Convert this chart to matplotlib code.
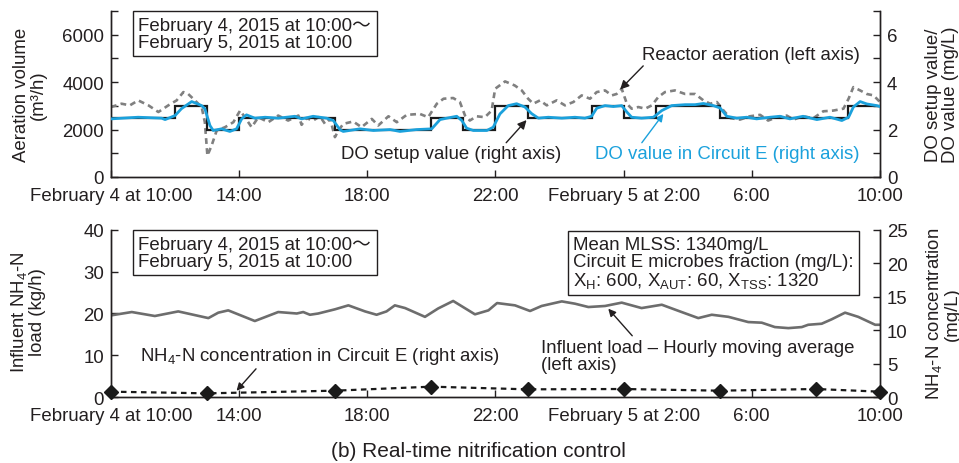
import numpy as np
import matplotlib
matplotlib.use("Agg")
import matplotlib.pyplot as plt

plt.rcParams['font.family'] = ['Liberation Sans', 'Noto Sans CJK JP', 'DejaVu Sans']
plt.rcParams['mathtext.fontset'] = 'custom'
plt.rcParams['mathtext.rm'] = 'Liberation Sans'
plt.rcParams['mathtext.it'] = 'Liberation Sans'
plt.rcParams['font.size'] = 13.4

TXT = '#231f20'
BLUE = '#1ba1dc'
GRAY = '#808080'

# hours elapsed since February 4, 2015 10:00
x_ticks = [0, 4, 8, 12, 16, 20, 24]
x_ticklabels = ['February 4 at 10:00', '14:00', '18:00', '22:00',
                'February 5 at 2:00', '6:00', '10:00']

# DO setup value (mg/L), step changes
do_set_edges = [0, 2, 3, 4, 7, 10, 11, 12, 13, 15, 16, 17, 19, 23, 24]
do_set_vals = [2.5, 3.0, 2.0, 2.5, 2.0, 2.5, 2.0, 3.0, 2.5, 3.0, 2.5, 3.0, 2.5, 3.0]

# DO value in Circuit E (mg/L)
do_t = [0, 0.85, 1.58, 1.69, 2.0, 2.2, 2.52, 2.83, 2.93, 3.09,
        3.19, 3.45, 3.71, 3.92, 4.08, 4.23, 4.49, 4.81, 5.22, 5.74,
        5.95, 6.31, 6.73, 6.94, 7.15, 7.25, 7.77, 8.19, 8.71, 9.02,
        9.54, 10.01, 10.27, 10.48, 10.79, 10.95, 11.1, 11.31, 11.73, 11.93,
        12.14, 12.4, 12.66, 12.92, 13.13, 13.34, 13.65, 14.07, 14.48, 14.79,
        15.0, 15.16, 15.42, 15.68, 15.94, 16.1, 16.25, 16.56, 16.93, 17.19,
        17.5, 17.92, 18.23, 18.49, 18.8, 19.01, 19.22, 19.53, 19.84, 20.15,
        20.57, 20.88, 21.19, 21.6, 22.03, 22.44, 22.81, 23.02, 23.17, 23.38,
        23.59, 23.9, 24.0]
do_val = [2.45, 2.52, 2.48, 2.42, 2.59, 2.88, 3.18, 3.01, 2.88, 2.17,
          1.96, 2.03, 1.92, 2.03, 2.45, 2.62, 2.48, 2.52, 2.48, 2.56,
          2.45, 2.56, 2.48, 2.38, 1.99, 1.92, 2.03, 1.96, 2.0, 1.92,
          2.0, 2.03, 2.42, 2.48, 2.56, 2.38, 2.06, 1.96, 1.96, 2.1,
          2.66, 3.01, 3.09, 2.95, 2.67, 2.48, 2.52, 2.48, 2.52, 2.48,
          2.56, 2.9, 3.01, 2.97, 3.01, 2.74, 2.52, 2.48, 2.52, 2.8,
          3.01, 3.05, 3.05, 3.1, 3.01, 2.91, 2.56, 2.48, 2.52, 2.45,
          2.52, 2.56, 2.45, 2.56, 2.42, 2.52, 2.38, 2.52, 2.95, 3.18,
          3.08, 3.01, 2.97]

# Reactor aeration (m3/h)
air_t = [0, 0.33, 0.59, 0.85, 1.17, 1.48, 1.79, 2.05, 2.26, 2.41,
         2.62, 2.83, 2.93, 3.01, 3.14, 3.30, 3.56, 3.82, 4.03, 4.18,
         4.39, 4.6, 4.91, 5.22, 5.53, 5.85, 5.95, 6.1, 6.31, 6.52,
         6.68, 6.84, 6.99, 7.1, 7.25, 7.56, 7.82, 8.14, 8.34, 8.66,
         8.92, 9.23, 9.64, 9.9, 10.17, 10.38, 10.68, 10.89, 11.05, 11.2,
         11.41, 11.67, 11.88, 11.99, 12.3, 12.6, 12.82, 13.02, 13.18, 13.39,
         13.6, 13.91, 14.17, 14.43, 14.69, 14.95, 15.16, 15.42, 15.63, 15.78,
         15.94, 16.1, 16.25, 16.46, 16.67, 16.88, 17.08, 17.29, 17.6, 17.92,
         18.23, 18.49, 18.7, 18.91, 19.12, 19.33, 19.63, 19.94, 20.26, 20.51,
         20.78, 21.09, 21.3, 21.6, 21.92, 22.23, 22.54, 22.86, 23.02, 23.17,
         23.38, 23.59, 23.8, 24.0]
air_val = [2950, 3090, 3020, 3230, 3020, 2740, 3020, 3230, 3580, 3500,
           3230, 2950, 2310, 900, 1320, 1960, 2100, 2310, 2800, 2520,
           2100, 2520, 2310, 2590, 2380, 2590, 2200, 2480, 2380, 2560,
           2240, 2450, 1680, 1960, 2240, 2340, 2100, 2450, 2170, 2560,
           2310, 2620, 2660, 2520, 3090, 3300, 3330, 3160, 2590, 2380,
           2560, 2520, 2800, 3720, 4030, 3860, 3650, 3300, 3090, 3230,
           3020, 3230, 3020, 3160, 3440, 3300, 3580, 3650, 3440, 3500,
           3720, 3090, 2880, 2950, 2880, 3020, 3370, 3580, 3650, 3500,
           3500, 3230, 3090, 3160, 2800, 2480, 2420, 2560, 2620, 2380,
           2520, 2590, 2420, 2560, 2480, 2770, 2800, 2880, 3300, 3790,
           3650, 3500, 3440, 3160]

# Influent NH4-N load, hourly moving average (kg/h)
load_t = [0, 0.65, 1.37, 2.1, 3.04, 3.35, 3.66, 4.49, 5.22, 5.8,
          6.0, 6.21, 6.47, 6.99, 7.41, 7.93, 8.29, 8.6, 8.86, 9.18,
          9.8, 10.21, 10.68, 11.36, 11.78, 12.05, 12.61, 13.08, 13.44, 14.07,
          14.48, 14.9, 15.42, 15.94, 16.56, 17.19, 17.81, 18.33, 18.75, 19.27,
          19.89, 20.31, 20.72, 21.14, 21.56, 21.76, 22.18, 22.49, 22.91, 23.32,
          23.85, 24.0]
load_val = [19.55, 20.35, 19.4, 20.5, 18.9, 20.2, 20.75, 18.2, 20.35, 20.0,
            20.35, 19.7, 20.0, 21.0, 21.95, 20.5, 19.7, 20.5, 21.95, 21.3,
            19.2, 21.2, 23.0, 19.8, 20.75, 22.5, 21.95, 20.6, 21.8, 22.9,
            22.35, 21.55, 21.8, 22.6, 21.3, 22.1, 20.35, 18.9, 19.7, 19.2,
            17.95, 17.8, 16.75, 16.5, 16.75, 17.3, 17.55, 18.6, 20.2, 19.2,
            17.3, 17.3]

# NH4-N concentration in Circuit E (mg/L)
nh4_t = [0, 3, 7, 10, 13, 16, 19, 22, 24]
nh4_val = [0.8, 0.55, 0.95, 1.55, 1.15, 1.2, 0.95, 1.2, 0.8]

period_text = 'February 4, 2015 at 10:00\uff5e\nFebruary 5, 2015 at 10:00'


def style_axes(ax, axr):
    for a in (ax, axr):
        a.spines['top'].set_visible(False)
        for s in a.spines.values():
            s.set_color(TXT)
            s.set_linewidth(1.0)
        a.tick_params(direction='in', length=5, width=1.0, colors=TXT,
                      labelcolor=TXT, pad=5)
    ax.set_xlim(0, 24)
    ax.set_xticks(x_ticks)
    ax.set_xticklabels(x_ticklabels)
    ax.tick_params(axis='x', pad=7)


fig = plt.figure(figsize=(9.59, 4.64), dpi=100)

# ---------- top panel ----------
ax1 = fig.add_axes([0.1157, 0.6164, 0.8019, 0.3578])
ax1r = ax1.twinx()
style_axes(ax1, ax1r)
ax1.set_ylim(0, 7000)
ax1.set_yticks(np.arange(0, 7001, 1000))
ax1.set_yticklabels(['0', '', '2000', '', '4000', '', '6000', ''])
ax1r.set_ylim(0, 7)
ax1r.set_yticks(np.arange(0, 8, 1))
ax1r.set_yticklabels(['0', '', '2', '', '4', '', '6', ''])

ax1.plot(air_t, air_val, color=GRAY, lw=1.9, ls=(0, (2.2, 1.6)), zorder=2)
ax1r.stairs(do_set_vals, do_set_edges, baseline=None, color='#1a1a1a', lw=1.6, zorder=3)
ax1r.plot(do_t, do_val, color=BLUE, lw=2.0, zorder=4)

ax1.text(0.0355, 0.965, period_text, transform=ax1.transAxes, ha='left', va='top',
         color=TXT, linespacing=1.0,
         bbox=dict(boxstyle='square,pad=0.3', fc='white', ec=TXT, lw=1.0))

ax1.annotate('Reactor aeration (left axis)', xy=(15.89, 3690), xytext=(16.56, 5160),
             va='center', ha='left', color=TXT,
             arrowprops=dict(arrowstyle='-|>', color=TXT, lw=1.0, mutation_scale=13,
                             shrinkA=0, shrinkB=0, relpos=(0.02, 0.0)))
ax1.annotate('DO setup value (right axis)', xy=(12.97, 2400), xytext=(7.17, 970),
             va='center', ha='left', color=TXT,
             arrowprops=dict(arrowstyle='-|>', color=TXT, lw=1.0, mutation_scale=13,
                             shrinkA=0, shrinkB=0, relpos=(0.74, 1.0)))
ax1.annotate('DO value in Circuit E (right axis)', xy=(17.24, 2660), xytext=(15.1, 970),
             va='center', ha='left', color=BLUE,
             arrowprops=dict(arrowstyle='-|>', color=BLUE, lw=1.0, mutation_scale=11,
                             shrinkA=0, shrinkB=0, relpos=(0.17, 1.0)))

fig.text(30 / 959, 1 - 95 / 464, 'Aeration volume\n(m\u00b3/h)', rotation=90,
         ha='center', va='center', multialignment='center', color=TXT, linespacing=1.0)
fig.text(942 / 959, 1 - 95 / 464, 'DO setup value/\nDO value (mg/L)', rotation=90,
         ha='center', va='center', multialignment='center', color=TXT, linespacing=1.0)

# ---------- bottom panel ----------
ax2 = fig.add_axes([0.1157, 0.1422, 0.8019, 0.3600])
ax2r = ax2.twinx()
style_axes(ax2, ax2r)
ax2.set_ylim(0, 40)
ax2.set_yticks([0, 10, 20, 30, 40])
ax2r.set_ylim(0, 25)
ax2r.set_yticks([0, 5, 10, 15, 20, 25])

ax2.plot(load_t, load_val, color='#6d6d6d', lw=1.9, zorder=2)
ax2r.plot(nh4_t, nh4_val, color='#1a1a1a', lw=1.6, ls=(0, (2.5, 2.0)),
          marker='D', ms=7, mfc='#1a1a1a', mec='#1a1a1a', clip_on=False, zorder=4)

ax2.text(0.0355, 0.965, period_text, transform=ax2.transAxes, ha='left', va='top',
         color=TXT, linespacing=1.0,
         bbox=dict(boxstyle='square,pad=0.3', fc='white', ec=TXT, lw=1.0))
ax2.text(0.601, 0.965,
         'Mean MLSS: 1340mg/L\nCircuit E microbes fraction (mg/L):\n'
         'X$_\\mathrm{H}$: 600, X$_\\mathrm{AUT}$: 60, X$_\\mathrm{TSS}$: 1320',
         transform=ax2.transAxes, ha='left', va='top', color=TXT, linespacing=1.0,
         bbox=dict(boxstyle='square,pad=0.3', fc='white', ec=TXT, lw=1.0))

ax2.annotate('NH$_\\mathrm{4}$-N concentration in Circuit E (right axis)',
             xy=(3.92, 1.5), xytext=(0.9, 9.93), va='center', ha='left', color=TXT,
             arrowprops=dict(arrowstyle='-|>', color=TXT, lw=1.0, mutation_scale=11,
                             shrinkA=0, shrinkB=0, relpos=(0.33, 0.0)))
ax2.annotate('Influent load \u2013 Hourly moving average\n(left axis)',
             xy=(15.52, 21.15), xytext=(13.41, 9.93), va='center', ha='left', color=TXT,
             linespacing=1.0,
             arrowprops=dict(arrowstyle='-|>', color=TXT, lw=1.0, mutation_scale=11,
                             shrinkA=0, shrinkB=0, relpos=(0.3, 1.0)))

fig.text(28 / 959, 1 - 312 / 464, 'Influent NH$_\\mathrm{4}$-N\nload (kg/h)', rotation=90,
         ha='center', va='center', multialignment='center', color=TXT, linespacing=1.0)
fig.text(942 / 959, 1 - 314 / 464, 'NH$_\\mathrm{4}$-N concentration\n(mg/L)', rotation=90,
         ha='center', va='center', multialignment='center', color=TXT, linespacing=1.0)

fig.text(478 / 959, 1 - 452 / 464, '(b) Real-time nitrification control',
         ha='center', va='center', color=TXT, fontsize=15)

fig.savefig('out.png', dpi=100)
